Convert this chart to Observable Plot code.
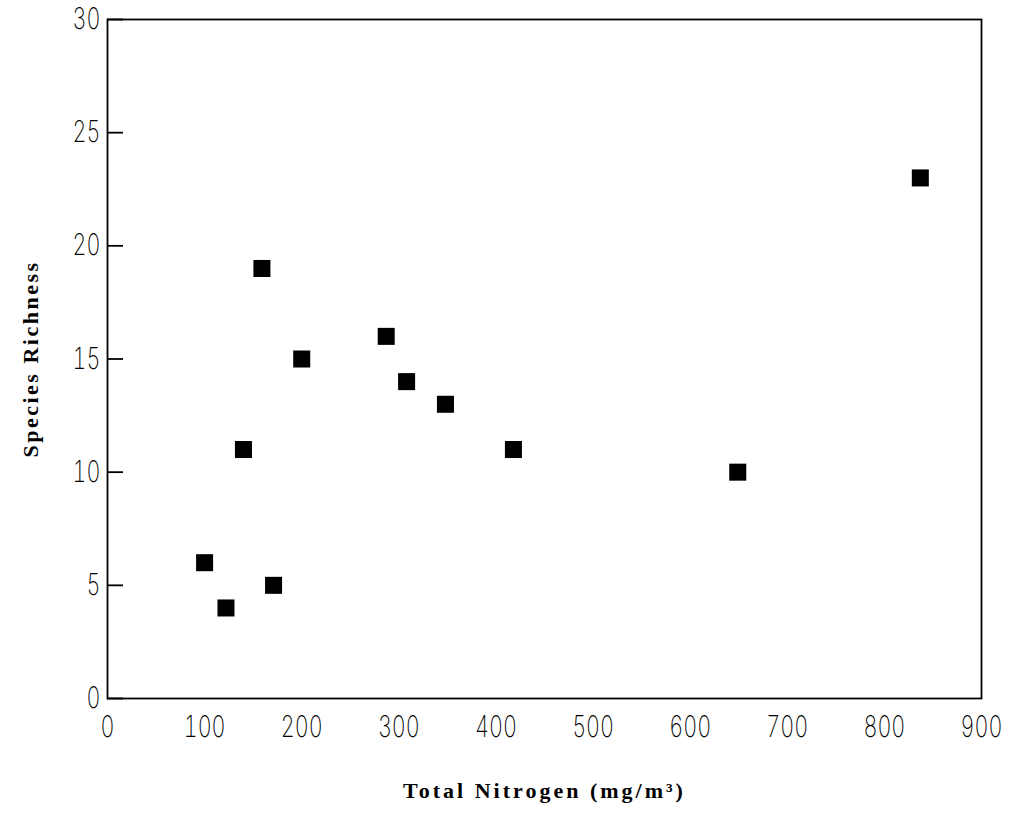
<!DOCTYPE html>
<html>
<head>
<meta charset="utf-8">
<script src="https://cdn.jsdelivr.net/npm/d3@7"></script>
<script src="https://cdn.jsdelivr.net/npm/@observablehq/plot@0.6"></script>
<style>
  html, body { margin: 0; padding: 0; background: #fff; }
  #chart svg { display: block; }
</style>
</head>
<body>
<div id="chart"></div>
<script>
const nitrogen = [100, 122, 140, 159, 171, 200, 308, 348, 287, 418, 649, 837];
const richness = [6, 4, 11, 19, 5, 15, 14, 13, 16, 11, 10, 23];
const xTicks = [0, 100, 200, 300, 400, 500, 600, 700, 800, 900];
const yTicks = [0, 5, 10, 15, 20, 25, 30];
const xTitle = "Total Nitrogen (mg/m\u00B3)";
const yTitle = "Species Richness";

const data = nitrogen.map((n, i) => ({n, r: richness[i]}));

const tickFont = {fontFamily: "Inter, 'DejaVu Sans', sans-serif", fontSize: 30, fontWeight: 200};
const titleFont = {fontFamily: "'Liberation Serif', serif", fontWeight: "bold", fontSize: 22};

const chart = Plot.plot({
  width: 1009,
  height: 816,
  marginLeft: 107,
  marginRight: 28,
  marginTop: 19,
  marginBottom: 118,
  style: {background: "#fff", color: "#000"},
  x: {domain: [0, 900]},
  y: {domain: [0, 30]},
  marks: [
    Plot.frame({stroke: "#000", strokeWidth: 1.8}),
    Plot.axisY(yTicks, {tickSize: -16, tickPadding: 23, strokeWidth: 1.8, label: null, ...tickFont}),
    Plot.axisX(xTicks, {tickSize: 0, tickPadding: 17, label: null, ...tickFont}),
    Plot.dot(data, {x: "n", y: "r", symbol: "square", r: 9.6, fill: "#000", stroke: "none"}),
    Plot.text([xTitle], {frameAnchor: "bottom", dy: 92, lineAnchor: "middle", textAnchor: "middle", text: d => d, ...titleFont}),
    Plot.text([yTitle], {frameAnchor: "left", dx: -77, rotate: -90, lineAnchor: "middle", textAnchor: "middle", text: d => d, ...titleFont})
  ]
});
chart.querySelectorAll("text").forEach(t => {
  if (t.textContent === xTitle) t.setAttribute("letter-spacing", "3");
  else if (t.textContent === yTitle) t.setAttribute("letter-spacing", "2.5");
  else {
    const tr = t.getAttribute("transform") || "";
    t.setAttribute("transform", (tr + " scale(0.72,1)").trim());
  }
});
document.getElementById("chart").append(chart);
</script>
</body>
</html>
